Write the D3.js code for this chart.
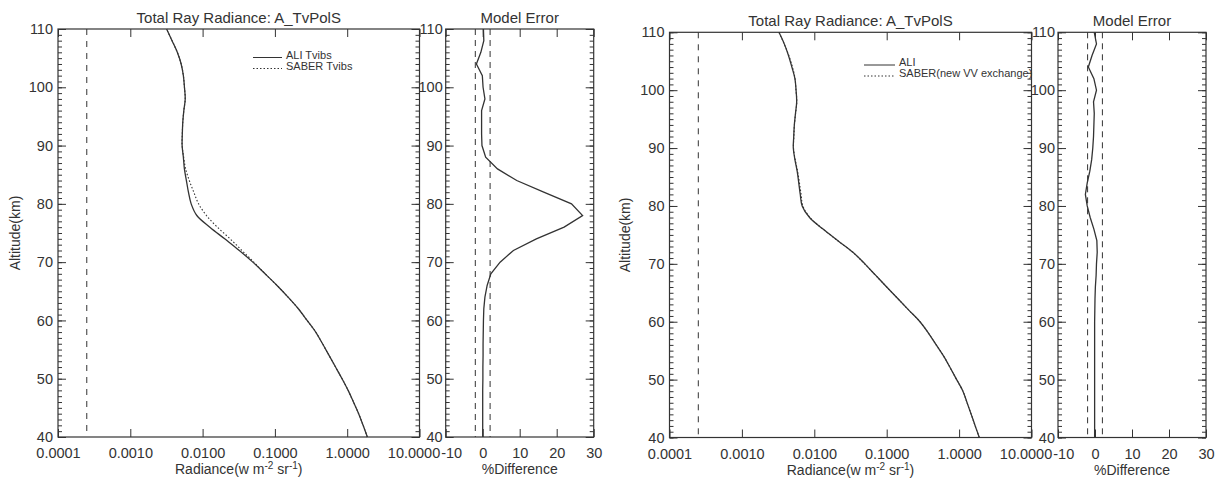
<!DOCTYPE html>
<html><head><meta charset="utf-8">
<script src="https://cdn.jsdelivr.net/npm/d3@7"></script>
<style>
body{margin:0;background:#fff}
svg{display:block}
text{font-family:"Liberation Sans",Arial,sans-serif}
</style>
</head><body>
<svg id="c" width="1215" height="478"></svg>
<script>
// ---------------- data ----------------
const altitudes = [40,42,44,46,48,50,52,54,56,58,60,62,64,66,68,70,72,74,76,78,80,82,84,86,88,90,92,94,96,98,100,102,104,106,108,110];

const aliLeft = [1.90,1.66,1.44,1.22,1.03,0.849,0.690,0.561,0.456,0.367,0.279,0.211,0.152,0.107,0.0731,0.0495,0.0322,0.0202,0.0126,0.00832,0.00695,0.00637,0.00597,0.00560,0.00542,0.00521,0.00524,0.00532,0.00550,0.00575,0.00561,0.00542,0.00505,0.00447,0.00378,0.00318];
const saberLeft = [1.90,1.66,1.44,1.22,1.03,0.849,0.690,0.561,0.456,0.367,0.279,0.211,0.152,0.107,0.0731,0.0510,0.0350,0.0240,0.0160,0.0113,0.00880,0.00755,0.00655,0.00582,0.00547,0.00521,0.00524,0.00532,0.00550,0.00575,0.00561,0.00542,0.00505,0.00447,0.00378,0.00318];
const errLeft = [0,0,0,0,0,0.05,0.05,0.1,0.1,0.15,0.2,0.3,0.6,1.2,2.2,4.7,8.3,14.5,22,27,24,16.5,9.2,4.0,0.8,-0.2,-0.3,-0.3,-0.3,0.6,0.1,-0.1,-1.7,-0.5,0.3,0.2];

const aliRight = [1.90,1.67,1.47,1.29,1.13,0.925,0.757,0.615,0.483,0.379,0.288,0.202,0.142,0.100,0.0706,0.0499,0.0342,0.0212,0.0132,0.0086,0.0068,0.0064,0.0061,0.0058,0.0054,0.00513,0.0052,0.0053,0.0055,0.00571,0.0056,0.0054,0.0049,0.0044,0.00385,0.00325];
const saberRight = [1.90,1.67,1.47,1.29,1.13,0.925,0.757,0.615,0.483,0.379,0.288,0.202,0.142,0.100,0.0704,0.0497,0.0340,0.0211,0.0132,0.0087,0.00695,0.00657,0.00623,0.00588,0.00545,0.00516,0.00522,0.00532,0.00551,0.00573,0.00558,0.00542,0.00499,0.00444,0.00383,0.00326];
const errRight = [-0.1,-0.1,-0.1,-0.1,-0.1,-0.1,-0.1,-0.1,-0.1,-0.1,-0.1,-0.05,0,0.1,0.3,0.4,0.6,0.5,-0.3,-1.3,-2.1,-2.6,-2.1,-1.4,-0.9,-0.6,-0.4,-0.3,-0.2,-0.4,0.4,-0.3,-1.8,-0.8,0.4,-0.2];

const radianceTicks = [0.0001,0.001,0.01,0.1,1,10];
const radianceLabels = ["0.0001","0.0010","0.0100","0.1000","1.0000","10.0000"];
const errTicks = [-10,0,10,20,30];
const errLabels = ["-10","0","10","20","30"];
const altTicks = [40,50,60,70,80,90,100,110];
const altLabels = ["40","50","60","70","80","90","100","110"];
const altMinorTicks = d3.range(40,111,1);
const noiseLevel = [0.00025];
const errBand = [-2,2];

const titleMain = "Total Ray Radiance: A_TvPolS";
const titleErr = "Model Error";
const legendLeft = ["ALI Tvibs","SABER Tvibs"];
const legendRight = ["ALI","SABER(new VV exchange)"];

// ---------------- drawing ----------------
const ink = "#333";
const svg = d3.select("#c");
const FONT = '"Liberation Sans", Arial, sans-serif';

function styleAxis(sel, size){
  sel.attr("font-family", FONT).attr("font-size", size).style("color", ink);
  sel.select(".domain").remove();
  sel.selectAll("line").attr("stroke-width", 1);
}

function boxAxes(g, xs, ys, xTicks, xLabels, yLabelPad, cls){
  const [x0,x1] = xs.range(), [yb,yt] = ys.range();
  g.append("g").attr("class",cls).attr("transform",`translate(0,${yb})`)
    .call(d3.axisBottom(xs).tickValues(xTicks).tickFormat((d,i)=>xLabels[i]).tickSizeInner(-8).tickSizeOuter(0).tickPadding(11))
    .call(s=>styleAxis(s,14.5));
  g.append("g").attr("transform",`translate(0,${yt})`)
    .call(d3.axisTop(xs).tickValues(xTicks).tickFormat("").tickSizeInner(-8).tickSizeOuter(0))
    .call(s=>styleAxis(s,14));
  g.append("g").attr("transform",`translate(${x0},0)`)
    .call(d3.axisLeft(ys).tickValues(altMinorTicks).tickFormat("").tickSizeInner(-4).tickSizeOuter(0))
    .call(s=>styleAxis(s,14));
  g.append("g").attr("transform",`translate(${x0},0)`)
    .call(d3.axisLeft(ys).tickValues(altTicks).tickFormat((d,i)=>altLabels[i]).tickSizeInner(-8).tickSizeOuter(0).tickPadding(yLabelPad))
    .call(s=>styleAxis(s,14.5));
  g.append("g").attr("transform",`translate(${x1},0)`)
    .call(d3.axisRight(ys).tickValues(altMinorTicks).tickFormat("").tickSizeInner(-4).tickSizeOuter(0))
    .call(s=>styleAxis(s,14));
  g.append("g").attr("transform",`translate(${x1},0)`)
    .call(d3.axisRight(ys).tickValues(altTicks).tickFormat("").tickSizeInner(-8).tickSizeOuter(0))
    .call(s=>styleAxis(s,14));
  g.append("rect").attr("x",x0).attr("y",yt).attr("width",x1-x0).attr("height",yb-yt)
    .attr("fill","none").attr("stroke",ink).attr("stroke-width",1.2);
}

function drawFigure(f){
  const g = svg.append("g");
  const y = d3.scaleLinear().domain([40,110]).range([f.yb, f.yt]);
  const x = d3.scaleLog().domain([1e-4,10]).range([f.mx0, f.mx1]);
  const xe = d3.scaleLinear().domain([-10,30]).range([f.ex0, f.ex1]);

  boxAxes(g, xe, y, errTicks, errLabels, 3, "bx-err");
  boxAxes(g, x, y, radianceTicks, radianceLabels, 5, "bx-main");

  // the two labels that meet at the panel junction: set them side by side
  const tMain = g.select(".bx-main").selectAll(".tick text").filter(d=>d===10);
  const tErr = g.select(".bx-err").selectAll(".tick text").filter(d=>d===-10);
  const w1 = tMain.node().getComputedTextLength();
  const w2 = tErr.node().getComputedTextLength();
  const start = f.mx1 + 5 - (w1 + w2 + 1)/2;
  tMain.attr("text-anchor","start").attr("x", start - x(10));
  tErr.attr("text-anchor","start").attr("x", start + w1 + 1 - xe(-10));

  g.selectAll(".nl").data(noiseLevel).join("line")
    .attr("x1",d=>x(d)).attr("x2",d=>x(d)).attr("y1",f.yt).attr("y2",f.yb)
    .attr("stroke",ink).attr("stroke-width",1).attr("stroke-dasharray","6,6");
  g.selectAll(".eb").data(errBand).join("line")
    .attr("x1",d=>xe(d)).attr("x2",d=>xe(d)).attr("y1",f.yt).attr("y2",f.yb)
    .attr("stroke",ink).attr("stroke-width",1).attr("stroke-dasharray","6,5");

  const lineMain = vals => d3.line().curve(d3.curveCatmullRom.alpha(0.5))
    .x((d,i)=>x(vals[i])).y(d=>y(d))(altitudes);
  g.append("path").attr("d", lineMain(f.saber)).attr("fill","none")
    .attr("stroke",ink).attr("stroke-width",1.1).attr("stroke-dasharray","1.5,2");
  g.append("path").attr("d", lineMain(f.ali)).attr("fill","none")
    .attr("stroke",ink).attr("stroke-width",1.3);

  const lineErr = d3.line().x((d,i)=>xe(f.err[i])).y(d=>y(d));
  g.append("path").attr("d", lineErr(altitudes)).attr("fill","none")
    .attr("stroke",ink).attr("stroke-width",1.3);

  g.append("text").attr("x",(f.mx0+f.mx1)/2).attr("y",f.ty).attr("text-anchor","middle")
    .attr("font-size",15).attr("fill",ink).text(titleMain);
  g.append("text").attr("x",(f.ex0+f.ex1)/2).attr("y",f.ty).attr("text-anchor","middle")
    .attr("font-size",15).attr("fill",ink).text(titleErr);

  const xl = g.append("text").attr("x",(f.mx0+f.mx1)/2).attr("y",f.xly).attr("text-anchor","middle")
    .attr("font-size",14).attr("fill",ink);
  xl.append("tspan").text("Radiance(w m");
  xl.append("tspan").attr("dy",-5).attr("font-size",10).text("-2");
  xl.append("tspan").attr("dy",5).text(" sr");
  xl.append("tspan").attr("dy",-5).attr("font-size",10).text("-1");
  xl.append("tspan").attr("dy",5).text(")");
  g.append("text").attr("x",(f.ex0+f.ex1)/2).attr("y",f.xly).attr("text-anchor","middle")
    .attr("font-size",14).attr("fill",ink).text("%Difference");
  g.append("text").attr("transform",`translate(${f.ylx},${(f.yt+f.yb)/2}) rotate(-90)`)
    .attr("text-anchor","middle").attr("font-size",14).attr("fill",ink).text("Altitude(km)");

  const lg = g.append("g");
  f.legend.forEach((t,i)=>{
    const ly = f.legY + i*f.legDy;
    lg.append("line").attr("x1",f.legX).attr("x2",f.legX+f.legW).attr("y1",ly).attr("y2",ly)
      .attr("stroke",ink).attr("stroke-width",1).attr("stroke-dasharray", i===0?null:"1.5,2");
    lg.append("text").attr("x",f.legX+f.legW+4).attr("y",ly+1).attr("font-size",11).attr("fill",ink).text(t);
  });
}

drawFigure({mx0:58, mx1:419.5, ex0:445.7, ex1:593.7, yt:29, yb:437, ty:23, xly:474, ylx:20,
  ali:aliLeft, saber:saberLeft, err:errLeft, legend:legendLeft,
  legX:253, legW:29, legY:57.5, legDy:11});
drawFigure({mx0:669.5, mx1:1031.5, ex0:1058, ex1:1206, yt:32.3, yb:437.5, ty:26, xly:475, ylx:630,
  ali:aliRight, saber:saberRight, err:errRight, legend:legendRight,
  legX:864, legW:31, legY:65, legDy:11});
</script>
</body></html>
